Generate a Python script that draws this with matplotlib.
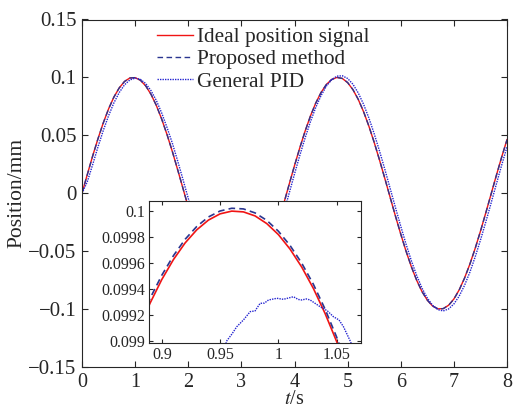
import numpy as np
import matplotlib
matplotlib.use('Agg')
import matplotlib.pyplot as plt

plt.rcParams['font.family'] = ['Liberation Serif', 'DejaVu Serif']
plt.rcParams['mathtext.fontset'] = 'stix'

# sample times (s) of the read-off curves
t = np.linspace(0, 8, 81)

# Ideal position signal (mm), every 0.1 s
ideal = [0.0000, 0.0162, 0.0321, 0.0470, 0.0607, 0.0728, 0.0830, 0.0909, 0.0965, 0.0995,
         0.0998, 0.0975, 0.0926, 0.0853, 0.0757, 0.0640, 0.0507, 0.0361, 0.0204, 0.0043,
         -0.0120, -0.0280, -0.0432, -0.0573, -0.0698, -0.0805, -0.0891, -0.0953, -0.0989, -0.1000,
         -0.0984, -0.0942, -0.0874, -0.0784, -0.0673, -0.0544, -0.0400, -0.0246, -0.0085, 0.0078,
         0.0239, 0.0393, 0.0537, 0.0667, 0.0779, 0.0870, 0.0939, 0.0982, 0.1000, 0.0991,
         0.0955, 0.0894, 0.0810, 0.0704, 0.0579, 0.0439, 0.0287, 0.0128, -0.0035, -0.0197,
         -0.0353, -0.0501, -0.0635, -0.0752, -0.0849, -0.0923, -0.0974, -0.0998, -0.0996, -0.0967,
         -0.0913, -0.0834, -0.0733, -0.0613, -0.0477, -0.0328, -0.0170, -0.0008, 0.0155, 0.0313,
         0.0463]

# Proposed method - sits on top of the ideal curve at this scale
proposed = [0.0000, 0.0161, 0.0320, 0.0469, 0.0606, 0.0728, 0.0830, 0.0909, 0.0965, 0.0995,
            0.0998, 0.0976, 0.0927, 0.0854, 0.0758, 0.0641, 0.0508, 0.0362, 0.0205, 0.0044,
            -0.0119, -0.0279, -0.0431, -0.0572, -0.0698, -0.0805, -0.0891, -0.0953, -0.0989, -0.1000,
            -0.0984, -0.0942, -0.0875, -0.0785, -0.0674, -0.0545, -0.0401, -0.0247, -0.0086, 0.0077,
            0.0238, 0.0392, 0.0536, 0.0666, 0.0778, 0.0870, 0.0939, 0.0982, 0.1000, 0.0991,
            0.0956, 0.0895, 0.0811, 0.0705, 0.0580, 0.0440, 0.0288, 0.0129, -0.0034, -0.0196,
            -0.0352, -0.0500, -0.0634, -0.0751, -0.0849, -0.0923, -0.0974, -0.0998, -0.0996, -0.0968,
            -0.0914, -0.0835, -0.0734, -0.0614, -0.0478, -0.0329, -0.0171, -0.0009, 0.0154, 0.0312,
            0.0462]

# General PID - lags a little and overshoots slightly after the first cycle
pid = [0.0000, 0.0100, 0.0246, 0.0399, 0.0541, 0.0669, 0.0780, 0.0869, 0.0936, 0.0978,
       0.0994, 0.0983, 0.0947, 0.0885, 0.0800, 0.0693, 0.0568, 0.0433, 0.0280, 0.0120,
       -0.0044, -0.0206, -0.0363, -0.0511, -0.0644, -0.0761, -0.0858, -0.0931, -0.0980, -0.1003,
       -0.1000, -0.0980, -0.0923, -0.0842, -0.0739, -0.0616, -0.0477, -0.0325, -0.0164, 0.0001,
       0.0166, 0.0327, 0.0478, 0.0618, 0.0741, 0.0843, 0.0925, 0.0981, 0.1011, 0.1014,
       0.0991, 0.0941, 0.0866, 0.0768, 0.0650, 0.0514, 0.0365, 0.0207, 0.0042, -0.0123,
       -0.0285, -0.0440, -0.0583, -0.0710, -0.0819, -0.0905, -0.0968, -0.1005, -0.1016, -0.0999,
       -0.0956, -0.0888, -0.0796, -0.0683, -0.0551, -0.0405, -0.0249, -0.0086, 0.0080, 0.0243,
       0.0400]

# zoomed view around the first peak
tz = [0.88, 0.89, 0.90, 0.91, 0.92, 0.93, 0.94, 0.95, 0.96, 0.97,
      0.98, 0.99, 1.00, 1.01, 1.02, 1.03, 1.04, 1.05, 1.06]
ideal_z = [0.099084, 0.099291, 0.099472, 0.099626, 0.099754, 0.099855, 0.099930, 0.099978,
           0.099999, 0.099993, 0.099962, 0.099903, 0.099818, 0.099706, 0.099568, 0.099403,
           0.099211, 0.098993, 0.098748]
proposed_z = [0.099124, 0.099328, 0.099505, 0.099656, 0.099782, 0.099881, 0.099954, 0.100000,
              0.100021, 0.100016, 0.099985, 0.099928, 0.099844, 0.099734, 0.099598, 0.099435,
              0.099244, 0.099027, 0.098783]
tz_pid = [0.950, 0.9558, 0.9600, 0.9643, 0.9700, 0.9758, 0.9800, 0.9843, 0.9880, 0.9915,
          0.9987, 1.0043, 1.0090, 1.0129, 1.0170, 1.0201, 1.0240, 1.0272, 1.0358, 1.0420,
          1.0472, 1.0520, 1.0558, 1.0615, 1.066]
pid_z = [0.098850, 0.099000, 0.099050, 0.099108, 0.099160, 0.099224, 0.099230, 0.099288,
         0.099290, 0.099314, 0.099327, 0.099319, 0.099330, 0.099339, 0.099318, 0.099314,
         0.099322, 0.099314, 0.099262, 0.099230, 0.099185, 0.099160, 0.099108, 0.099000,
         0.098900]

yticks = [-0.15, -0.1, -0.05, 0, 0.05, 0.1, 0.15]
ytick_labels = ['\u22120.15', '\u22120.1', '\u22120.05', '0', '0.05', '0.1', '0.15']
zx_ticks = [0.9, 0.95, 1.0, 1.05]
zx_labels = ['0.9', '0.95', '1', '1.05']
zy_ticks = [0.099, 0.0992, 0.0994, 0.0996, 0.0998, 0.1]
zy_labels = ['0.099', '0.0992', '0.0994', '0.0996', '0.0998', '0.1']

c_ideal = '#f01414'
c_prop = '#2a3590'
c_pid = '#2424d0'
ink = '#262626'

fig = plt.figure(figsize=(5.13, 4.09), dpi=100)
ax = fig.add_axes([82/513, 1 - 367/409, 425/513, 347.5/409])

ax.plot(t, ideal, color=c_ideal, lw=1.0, label='Ideal position signal')
ax.plot(t, proposed, color=c_prop, lw=1.0, ls=(0, (4, 2.5)), label='Proposed method')
ax.plot(t, pid, color=c_pid, lw=1.0, ls=(0, (1, 0.8)), label='General PID')

ax.set_xlim(0, 8)
ax.set_ylim(-0.15, 0.15)
ax.set_xticks(range(9))
ax.set_yticks(yticks)
ax.set_yticklabels(ytick_labels)
ax.tick_params(direction='in', top=True, right=True, labelsize=15, colors=ink,
               length=4, pad=4)
ax.tick_params(axis='x', pad=4, labelsize=14.5)
for s in ax.spines.values():
    s.set_color(ink)
ax.set_xlabel('$t$/s', fontsize=14.5, color=ink, labelpad=-1)
ax.set_ylabel('Position/mm', fontsize=15.5, color=ink, labelpad=1)

leg = ax.legend(loc='upper left', bbox_to_anchor=(0.176, 0.978), frameon=False,
                fontsize=15.3, handlelength=1.7, handletextpad=0.2,
                labelspacing=0.12, borderpad=0, borderaxespad=0)
for txt in leg.get_texts():
    txt.set_color(ink)

# inset
axz = fig.add_axes([149/513, (409 - 343.3)/409, 211.7/513, 142.3/409])
axz.set_facecolor('white')
axz.plot(tz, ideal_z, color=c_ideal, lw=1.2)
axz.plot(tz, proposed_z, color=c_prop, lw=1.2, ls=(0, (4, 2.5)))
axz.plot(tz_pid, pid_z, color=c_pid, lw=1.0, ls=(0, (1, 0.8)))
axz.set_xlim(0.889, 1.0706)
axz.set_ylim(0.09898, 0.100077)
axz.set_xticks(zx_ticks)
axz.set_xticklabels(zx_labels)
axz.set_yticks(zy_ticks)
axz.set_yticklabels(zy_labels)
axz.tick_params(direction='in', top=True, right=True, labelsize=11.5, colors=ink,
                length=3, pad=3)
for s in axz.spines.values():
    s.set_color(ink)

fig.savefig('out.png', dpi=100)
